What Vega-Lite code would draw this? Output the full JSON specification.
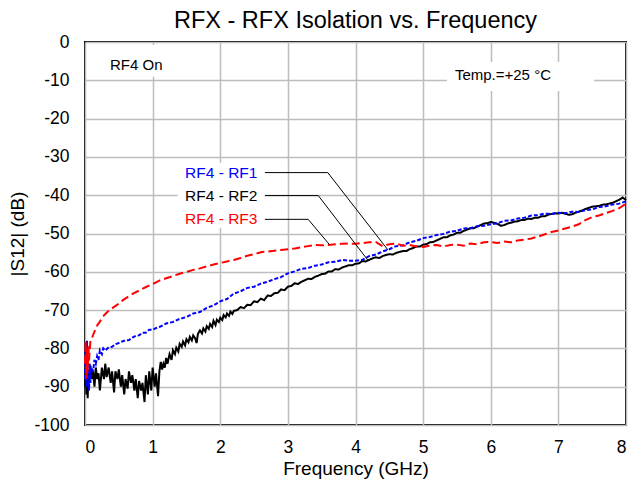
{
  "$schema": "https://vega.github.io/schema/vega-lite/v6.json",
  "width": 541,
  "height": 383,
  "autosize": "none",
  "padding": {"left": 85, "top": 42, "right": 4, "bottom": 55},
  "background": "white",
  "title": {"text": "RFX - RFX Isolation vs. Frequency", "fontSize": 23.5, "font": "Liberation Sans", "fontWeight": "normal", "color": "black", "anchor": "middle", "offset": 1},
  "config": {
    "font": "Liberation Sans",
    "view": {"stroke": "black", "strokeWidth": 2},
    "axis": {"grid": true, "gridColor": "#bdbdbd", "gridWidth": 1.5, "domain": false, "ticks": false, "labelOverlap": false, "labelFont": "Liberation Sans", "labelFontSize": 17.5, "labelColor": "black", "titleFont": "Liberation Sans", "titleFontSize": 19, "titleFontWeight": "normal", "titleColor": "black"}
  },
  "datasets": {
    "curves": [
      {"s": "RF4 - RF2", "f": 0.00, "db": -90}, {"s": "RF4 - RF2", "f": 0.01, "db": -85}, {"s": "RF4 - RF2", "f": 0.02, "db": -92}, {"s": "RF4 - RF2", "f": 0.03, "db": -87}, {"s": "RF4 - RF2", "f": 0.04, "db": -93}, {"s": "RF4 - RF2", "f": 0.05, "db": -86}, {"s": "RF4 - RF2", "f": 0.06, "db": -89}, {"s": "RF4 - RF2", "f": 0.08, "db": -84.5}, {"s": "RF4 - RF2", "f": 0.10, "db": -88}, {"s": "RF4 - RF2", "f": 0.12, "db": -86}, {"s": "RF4 - RF2", "f": 0.14, "db": -90}, {"s": "RF4 - RF2", "f": 0.16, "db": -85}, {"s": "RF4 - RF2", "f": 0.18, "db": -88}, {"s": "RF4 - RF2", "f": 0.20, "db": -86.5}, {"s": "RF4 - RF2", "f": 0.22, "db": -91}, {"s": "RF4 - RF2", "f": 0.25, "db": -85}, {"s": "RF4 - RF2", "f": 0.28, "db": -88}, {"s": "RF4 - RF2", "f": 0.30, "db": -84}, {"s": "RF4 - RF2", "f": 0.32, "db": -87.5}, {"s": "RF4 - RF2", "f": 0.35, "db": -85}, {"s": "RF4 - RF2", "f": 0.38, "db": -89}, {"s": "RF4 - RF2", "f": 0.40, "db": -86}, {"s": "RF4 - RF2", "f": 0.43, "db": -91.5}, {"s": "RF4 - RF2", "f": 0.45, "db": -86}, {"s": "RF4 - RF2", "f": 0.48, "db": -88}, {"s": "RF4 - RF2", "f": 0.50, "db": -85.5}, {"s": "RF4 - RF2", "f": 0.53, "db": -90}, {"s": "RF4 - RF2", "f": 0.55, "db": -87}, {"s": "RF4 - RF2", "f": 0.58, "db": -92}, {"s": "RF4 - RF2", "f": 0.60, "db": -88}, {"s": "RF4 - RF2", "f": 0.63, "db": -90.5}, {"s": "RF4 - RF2", "f": 0.65, "db": -86}, {"s": "RF4 - RF2", "f": 0.68, "db": -89}, {"s": "RF4 - RF2", "f": 0.70, "db": -87}, {"s": "RF4 - RF2", "f": 0.73, "db": -91}, {"s": "RF4 - RF2", "f": 0.75, "db": -88}, {"s": "RF4 - RF2", "f": 0.78, "db": -93}, {"s": "RF4 - RF2", "f": 0.80, "db": -88.5}, {"s": "RF4 - RF2", "f": 0.83, "db": -91}, {"s": "RF4 - RF2", "f": 0.85, "db": -89}, {"s": "RF4 - RF2", "f": 0.88, "db": -94}, {"s": "RF4 - RF2", "f": 0.90, "db": -87}, {"s": "RF4 - RF2", "f": 0.93, "db": -92}, {"s": "RF4 - RF2", "f": 0.95, "db": -86}, {"s": "RF4 - RF2", "f": 0.98, "db": -91}, {"s": "RF4 - RF2", "f": 1.00, "db": -85}, {"s": "RF4 - RF2", "f": 1.03, "db": -90}, {"s": "RF4 - RF2", "f": 1.05, "db": -86.5}, {"s": "RF4 - RF2", "f": 1.08, "db": -92.5}, {"s": "RF4 - RF2", "f": 1.10, "db": -86},
      {"s": "RF4 - RF2", "f": 1.12, "db": -83.5}, {"s": "RF4 - RF2", "f": 1.14, "db": -85.5}, {"s": "RF4 - RF2", "f": 1.16, "db": -84}, {"s": "RF4 - RF2", "f": 1.18, "db": -85}, {"s": "RF4 - RF2", "f": 1.20, "db": -82.5}, {"s": "RF4 - RF2", "f": 1.22, "db": -84}, {"s": "RF4 - RF2", "f": 1.25, "db": -81.5}, {"s": "RF4 - RF2", "f": 1.28, "db": -83}, {"s": "RF4 - RF2", "f": 1.30, "db": -80.5}, {"s": "RF4 - RF2", "f": 1.33, "db": -81.5}, {"s": "RF4 - RF2", "f": 1.35, "db": -79.8}, {"s": "RF4 - RF2", "f": 1.38, "db": -80.8}, {"s": "RF4 - RF2", "f": 1.40, "db": -78.8}, {"s": "RF4 - RF2", "f": 1.43, "db": -79.6}, {"s": "RF4 - RF2", "f": 1.45, "db": -78.2}, {"s": "RF4 - RF2", "f": 1.48, "db": -79.2}, {"s": "RF4 - RF2", "f": 1.50, "db": -77.6}, {"s": "RF4 - RF2", "f": 1.53, "db": -78.4}, {"s": "RF4 - RF2", "f": 1.55, "db": -77}, {"s": "RF4 - RF2", "f": 1.58, "db": -77.9}, {"s": "RF4 - RF2", "f": 1.60, "db": -76.6}, {"s": "RF4 - RF2", "f": 1.63, "db": -77.4}, {"s": "RF4 - RF2", "f": 1.65, "db": -78.6}, {"s": "RF4 - RF2", "f": 1.67, "db": -76.2}, {"s": "RF4 - RF2", "f": 1.70, "db": -75.3}, {"s": "RF4 - RF2", "f": 1.73, "db": -76.1}, {"s": "RF4 - RF2", "f": 1.75, "db": -74.8}, {"s": "RF4 - RF2", "f": 1.78, "db": -75.6}, {"s": "RF4 - RF2", "f": 1.80, "db": -74.2}, {"s": "RF4 - RF2", "f": 1.83, "db": -74.9}, {"s": "RF4 - RF2", "f": 1.85, "db": -73.6}, {"s": "RF4 - RF2", "f": 1.88, "db": -74.4}, {"s": "RF4 - RF2", "f": 1.90, "db": -72.8}, {"s": "RF4 - RF2", "f": 1.93, "db": -73.9}, {"s": "RF4 - RF2", "f": 1.95, "db": -72.5}, {"s": "RF4 - RF2", "f": 1.98, "db": -73.1}, {"s": "RF4 - RF2", "f": 2.00, "db": -72.0}, {"s": "RF4 - RF2", "f": 2.03, "db": -72.6}, {"s": "RF4 - RF2", "f": 2.05, "db": -71.3}, {"s": "RF4 - RF2", "f": 2.08, "db": -71.9}, {"s": "RF4 - RF2", "f": 2.10, "db": -70.9}, {"s": "RF4 - RF2", "f": 2.13, "db": -71.5}, {"s": "RF4 - RF2", "f": 2.15, "db": -70.4}, {"s": "RF4 - RF2", "f": 2.18, "db": -71.0}, {"s": "RF4 - RF2", "f": 2.20, "db": -70.2}, {"s": "RF4 - RF2", "f": 2.25, "db": -70.0}, {"s": "RF4 - RF2", "f": 2.30, "db": -69.2}, {"s": "RF4 - RF2", "f": 2.35, "db": -69.5}, {"s": "RF4 - RF2", "f": 2.40, "db": -68.6}, {"s": "RF4 - RF2", "f": 2.45, "db": -68.7}, {"s": "RF4 - RF2", "f": 2.50, "db": -67.7}, {"s": "RF4 - RF2", "f": 2.55, "db": -67.9}, {"s": "RF4 - RF2", "f": 2.60, "db": -67.0}, {"s": "RF4 - RF2", "f": 2.65, "db": -67.4}, {"s": "RF4 - RF2", "f": 2.70, "db": -66.2}, {"s": "RF4 - RF2", "f": 2.75, "db": -66.3}, {"s": "RF4 - RF2", "f": 2.80, "db": -65.6}, {"s": "RF4 - RF2", "f": 2.85, "db": -65.5}, {"s": "RF4 - RF2", "f": 2.90, "db": -64.6}, {"s": "RF4 - RF2", "f": 2.95, "db": -64.8}, {"s": "RF4 - RF2", "f": 3.00, "db": -63.9}, {"s": "RF4 - RF2", "f": 3.05, "db": -63.7}, {"s": "RF4 - RF2", "f": 3.10, "db": -63.0}, {"s": "RF4 - RF2", "f": 3.15, "db": -63.2}, {"s": "RF4 - RF2", "f": 3.20, "db": -62.6}, {"s": "RF4 - RF2", "f": 3.25, "db": -62.2}, {"s": "RF4 - RF2", "f": 3.30, "db": -61.8}, {"s": "RF4 - RF2", "f": 3.35, "db": -61.9}, {"s": "RF4 - RF2", "f": 3.40, "db": -61.3}, {"s": "RF4 - RF2", "f": 3.45, "db": -61.0}, {"s": "RF4 - RF2", "f": 3.50, "db": -60.6}, {"s": "RF4 - RF2", "f": 3.55, "db": -60.5}, {"s": "RF4 - RF2", "f": 3.60, "db": -59.9}, {"s": "RF4 - RF2", "f": 3.65, "db": -59.9}, {"s": "RF4 - RF2", "f": 3.70, "db": -59.3}, {"s": "RF4 - RF2", "f": 3.75, "db": -59.4}, {"s": "RF4 - RF2", "f": 3.80, "db": -58.9}, {"s": "RF4 - RF2", "f": 3.85, "db": -58.6}, {"s": "RF4 - RF2", "f": 3.90, "db": -58.3}, {"s": "RF4 - RF2", "f": 3.95, "db": -58.3}, {"s": "RF4 - RF2", "f": 4.00, "db": -57.9}, {"s": "RF4 - RF2", "f": 4.05, "db": -57.8}, {"s": "RF4 - RF2", "f": 4.10, "db": -57.2}, {"s": "RF4 - RF2", "f": 4.15, "db": -57.3}, {"s": "RF4 - RF2", "f": 4.20, "db": -56.9}, {"s": "RF4 - RF2", "f": 4.25, "db": -56.5}, {"s": "RF4 - RF2", "f": 4.30, "db": -56.2}, {"s": "RF4 - RF2", "f": 4.35, "db": -56.4}, {"s": "RF4 - RF2", "f": 4.40, "db": -55.9}, {"s": "RF4 - RF2", "f": 4.45, "db": -55.6}, {"s": "RF4 - RF2", "f": 4.50, "db": -55.4}, {"s": "RF4 - RF2", "f": 4.55, "db": -55.5}, {"s": "RF4 - RF2", "f": 4.60, "db": -55.1}, {"s": "RF4 - RF2", "f": 4.65, "db": -54.8}, {"s": "RF4 - RF2", "f": 4.70, "db": -54.6}, {"s": "RF4 - RF2", "f": 4.75, "db": -54.6}, {"s": "RF4 - RF2", "f": 4.80, "db": -54.1}, {"s": "RF4 - RF2", "f": 4.85, "db": -53.8}, {"s": "RF4 - RF2", "f": 4.90, "db": -53.4}, {"s": "RF4 - RF2", "f": 4.95, "db": -53.4}, {"s": "RF4 - RF2", "f": 5.00, "db": -52.9}, {"s": "RF4 - RF2", "f": 5.05, "db": -52.8}, {"s": "RF4 - RF2", "f": 5.10, "db": -52.3}, {"s": "RF4 - RF2", "f": 5.15, "db": -52.2}, {"s": "RF4 - RF2", "f": 5.20, "db": -51.8}, {"s": "RF4 - RF2", "f": 5.25, "db": -51.4}, {"s": "RF4 - RF2", "f": 5.30, "db": -51.0}, {"s": "RF4 - RF2", "f": 5.35, "db": -51.0}, {"s": "RF4 - RF2", "f": 5.40, "db": -50.5}, {"s": "RF4 - RF2", "f": 5.45, "db": -50.3}, {"s": "RF4 - RF2", "f": 5.50, "db": -49.8}, {"s": "RF4 - RF2", "f": 5.55, "db": -49.8}, {"s": "RF4 - RF2", "f": 5.60, "db": -49.3}, {"s": "RF4 - RF2", "f": 5.65, "db": -49.0}, {"s": "RF4 - RF2", "f": 5.70, "db": -48.6}, {"s": "RF4 - RF2", "f": 5.75, "db": -48.6}, {"s": "RF4 - RF2", "f": 5.80, "db": -48.2}, {"s": "RF4 - RF2", "f": 5.85, "db": -47.8}, {"s": "RF4 - RF2", "f": 5.90, "db": -47.4}, {"s": "RF4 - RF2", "f": 5.95, "db": -47.3}, {"s": "RF4 - RF2", "f": 6.00, "db": -47.0}, {"s": "RF4 - RF2", "f": 6.05, "db": -47.2}, {"s": "RF4 - RF2", "f": 6.10, "db": -47.5}, {"s": "RF4 - RF2", "f": 6.15, "db": -48.0}, {"s": "RF4 - RF2", "f": 6.20, "db": -47.8}, {"s": "RF4 - RF2", "f": 6.25, "db": -47.4}, {"s": "RF4 - RF2", "f": 6.30, "db": -47.2}, {"s": "RF4 - RF2", "f": 6.35, "db": -46.9}, {"s": "RF4 - RF2", "f": 6.40, "db": -46.8}, {"s": "RF4 - RF2", "f": 6.45, "db": -46.5}, {"s": "RF4 - RF2", "f": 6.50, "db": -46.5}, {"s": "RF4 - RF2", "f": 6.55, "db": -46.1}, {"s": "RF4 - RF2", "f": 6.60, "db": -46.2}, {"s": "RF4 - RF2", "f": 6.65, "db": -45.9}, {"s": "RF4 - RF2", "f": 6.70, "db": -45.9}, {"s": "RF4 - RF2", "f": 6.75, "db": -45.5}, {"s": "RF4 - RF2", "f": 6.80, "db": -45.5}, {"s": "RF4 - RF2", "f": 6.85, "db": -45.1}, {"s": "RF4 - RF2", "f": 6.90, "db": -44.9}, {"s": "RF4 - RF2", "f": 6.95, "db": -44.7}, {"s": "RF4 - RF2", "f": 7.00, "db": -44.8}, {"s": "RF4 - RF2", "f": 7.05, "db": -44.6}, {"s": "RF4 - RF2", "f": 7.10, "db": -44.8}, {"s": "RF4 - RF2", "f": 7.15, "db": -45.1}, {"s": "RF4 - RF2", "f": 7.20, "db": -45.0}, {"s": "RF4 - RF2", "f": 7.25, "db": -44.6}, {"s": "RF4 - RF2", "f": 7.30, "db": -44.3}, {"s": "RF4 - RF2", "f": 7.35, "db": -44.0}, {"s": "RF4 - RF2", "f": 7.40, "db": -43.6}, {"s": "RF4 - RF2", "f": 7.45, "db": -43.3}, {"s": "RF4 - RF2", "f": 7.50, "db": -43.0}, {"s": "RF4 - RF2", "f": 7.55, "db": -42.9}, {"s": "RF4 - RF2", "f": 7.60, "db": -42.8}, {"s": "RF4 - RF2", "f": 7.65, "db": -42.5}, {"s": "RF4 - RF2", "f": 7.70, "db": -42.4}, {"s": "RF4 - RF2", "f": 7.75, "db": -42.2}, {"s": "RF4 - RF2", "f": 7.80, "db": -42.0}, {"s": "RF4 - RF2", "f": 7.85, "db": -41.6}, {"s": "RF4 - RF2", "f": 7.90, "db": -41.2}, {"s": "RF4 - RF2", "f": 7.95, "db": -40.6}, {"s": "RF4 - RF2", "f": 8.00, "db": -41.3},

      {"s": "RF4 - RF1", "f": 0.00, "db": -88}, {"s": "RF4 - RF1", "f": 0.01, "db": -80}, {"s": "RF4 - RF1", "f": 0.02, "db": -90}, {"s": "RF4 - RF1", "f": 0.03, "db": -78}, {"s": "RF4 - RF1", "f": 0.04, "db": -86}, {"s": "RF4 - RF1", "f": 0.05, "db": -82}, {"s": "RF4 - RF1", "f": 0.06, "db": -91}, {"s": "RF4 - RF1", "f": 0.07, "db": -84}, {"s": "RF4 - RF1", "f": 0.08, "db": -89}, {"s": "RF4 - RF1", "f": 0.10, "db": -85}, {"s": "RF4 - RF1", "f": 0.12, "db": -86}, {"s": "RF4 - RF1", "f": 0.14, "db": -83}, {"s": "RF4 - RF1", "f": 0.16, "db": -84}, {"s": "RF4 - RF1", "f": 0.18, "db": -82}, {"s": "RF4 - RF1", "f": 0.20, "db": -83}, {"s": "RF4 - RF1", "f": 0.22, "db": -80.5}, {"s": "RF4 - RF1", "f": 0.25, "db": -81.5}, {"s": "RF4 - RF1", "f": 0.27, "db": -80}, {"s": "RF4 - RF1", "f": 0.30, "db": -80.6}, {"s": "RF4 - RF1", "f": 0.35, "db": -79.7}, {"s": "RF4 - RF1", "f": 0.40, "db": -79.6}, {"s": "RF4 - RF1", "f": 0.45, "db": -78.9}, {"s": "RF4 - RF1", "f": 0.50, "db": -78.6}, {"s": "RF4 - RF1", "f": 0.55, "db": -78.2}, {"s": "RF4 - RF1", "f": 0.60, "db": -77.9}, {"s": "RF4 - RF1", "f": 0.65, "db": -77.8}, {"s": "RF4 - RF1", "f": 0.70, "db": -77.2}, {"s": "RF4 - RF1", "f": 0.75, "db": -76.7}, {"s": "RF4 - RF1", "f": 0.80, "db": -76.6}, {"s": "RF4 - RF1", "f": 0.85, "db": -75.9}, {"s": "RF4 - RF1", "f": 0.90, "db": -75.9}, {"s": "RF4 - RF1", "f": 0.95, "db": -75.1}, {"s": "RF4 - RF1", "f": 1.00, "db": -75.1}, {"s": "RF4 - RF1", "f": 1.05, "db": -74.7}, {"s": "RF4 - RF1", "f": 1.10, "db": -74.4}, {"s": "RF4 - RF1", "f": 1.20, "db": -73.5}, {"s": "RF4 - RF1", "f": 1.30, "db": -73.1}, {"s": "RF4 - RF1", "f": 1.40, "db": -72.3}, {"s": "RF4 - RF1", "f": 1.50, "db": -71.8}, {"s": "RF4 - RF1", "f": 1.60, "db": -70.9}, {"s": "RF4 - RF1", "f": 1.70, "db": -70.5}, {"s": "RF4 - RF1", "f": 1.80, "db": -69.4}, {"s": "RF4 - RF1", "f": 1.90, "db": -68.8}, {"s": "RF4 - RF1", "f": 2.00, "db": -67.7}, {"s": "RF4 - RF1", "f": 2.10, "db": -67.1}, {"s": "RF4 - RF1", "f": 2.20, "db": -65.7}, {"s": "RF4 - RF1", "f": 2.30, "db": -65.1}, {"s": "RF4 - RF1", "f": 2.40, "db": -64.2}, {"s": "RF4 - RF1", "f": 2.50, "db": -63.9}, {"s": "RF4 - RF1", "f": 2.60, "db": -63.1}, {"s": "RF4 - RF1", "f": 2.70, "db": -62.6}, {"s": "RF4 - RF1", "f": 2.80, "db": -61.9}, {"s": "RF4 - RF1", "f": 2.90, "db": -61.4}, {"s": "RF4 - RF1", "f": 3.00, "db": -60.4}, {"s": "RF4 - RF1", "f": 3.10, "db": -59.9}, {"s": "RF4 - RF1", "f": 3.20, "db": -59.2}, {"s": "RF4 - RF1", "f": 3.30, "db": -59}, {"s": "RF4 - RF1", "f": 3.40, "db": -58.4}, {"s": "RF4 - RF1", "f": 3.50, "db": -58.1}, {"s": "RF4 - RF1", "f": 3.60, "db": -57.5}, {"s": "RF4 - RF1", "f": 3.70, "db": -57.4}, {"s": "RF4 - RF1", "f": 3.80, "db": -56.9}, {"s": "RF4 - RF1", "f": 3.90, "db": -57.1}, {"s": "RF4 - RF1", "f": 4.00, "db": -57.1}, {"s": "RF4 - RF1", "f": 4.10, "db": -56.9}, {"s": "RF4 - RF1", "f": 4.20, "db": -55.9}, {"s": "RF4 - RF1", "f": 4.30, "db": -55.5}, {"s": "RF4 - RF1", "f": 4.40, "db": -54.7}, {"s": "RF4 - RF1", "f": 4.50, "db": -54.1}, {"s": "RF4 - RF1", "f": 4.60, "db": -53.3}, {"s": "RF4 - RF1", "f": 4.70, "db": -53.1}, {"s": "RF4 - RF1", "f": 4.80, "db": -52.3}, {"s": "RF4 - RF1", "f": 4.90, "db": -51.9}, {"s": "RF4 - RF1", "f": 5.00, "db": -51.2}, {"s": "RF4 - RF1", "f": 5.10, "db": -50.9}, {"s": "RF4 - RF1", "f": 5.20, "db": -50.4}, {"s": "RF4 - RF1", "f": 5.30, "db": -50.1}, {"s": "RF4 - RF1", "f": 5.40, "db": -49.5}, {"s": "RF4 - RF1", "f": 5.50, "db": -49.3}, {"s": "RF4 - RF1", "f": 5.60, "db": -48.7}, {"s": "RF4 - RF1", "f": 5.70, "db": -48.6}, {"s": "RF4 - RF1", "f": 5.80, "db": -48.1}, {"s": "RF4 - RF1", "f": 5.90, "db": -48}, {"s": "RF4 - RF1", "f": 6.00, "db": -47.6}, {"s": "RF4 - RF1", "f": 6.10, "db": -47.3}, {"s": "RF4 - RF1", "f": 6.20, "db": -46.7}, {"s": "RF4 - RF1", "f": 6.30, "db": -46.6}, {"s": "RF4 - RF1", "f": 6.40, "db": -46.1}, {"s": "RF4 - RF1", "f": 6.50, "db": -45.9}, {"s": "RF4 - RF1", "f": 6.60, "db": -45.3}, {"s": "RF4 - RF1", "f": 6.70, "db": -45.2}, {"s": "RF4 - RF1", "f": 6.80, "db": -44.8}, {"s": "RF4 - RF1", "f": 6.90, "db": -44.9}, {"s": "RF4 - RF1", "f": 7.00, "db": -44.6}, {"s": "RF4 - RF1", "f": 7.10, "db": -44.7}, {"s": "RF4 - RF1", "f": 7.20, "db": -44.3}, {"s": "RF4 - RF1", "f": 7.30, "db": -44.4}, {"s": "RF4 - RF1", "f": 7.40, "db": -43.9}, {"s": "RF4 - RF1", "f": 7.50, "db": -43.7}, {"s": "RF4 - RF1", "f": 7.60, "db": -43.1}, {"s": "RF4 - RF1", "f": 7.70, "db": -42.9}, {"s": "RF4 - RF1", "f": 7.80, "db": -42.4}, {"s": "RF4 - RF1", "f": 7.90, "db": -42.2}, {"s": "RF4 - RF1", "f": 8.00, "db": -41.6},

      {"s": "RF4 - RF3", "f": 0.00, "db": -84}, {"s": "RF4 - RF3", "f": 0.01, "db": -78}, {"s": "RF4 - RF3", "f": 0.02, "db": -88}, {"s": "RF4 - RF3", "f": 0.03, "db": -80}, {"s": "RF4 - RF3", "f": 0.04, "db": -86}, {"s": "RF4 - RF3", "f": 0.05, "db": -79}, {"s": "RF4 - RF3", "f": 0.06, "db": -83}, {"s": "RF4 - RF3", "f": 0.08, "db": -78}, {"s": "RF4 - RF3", "f": 0.10, "db": -77.5}, {"s": "RF4 - RF3", "f": 0.12, "db": -76.5}, {"s": "RF4 - RF3", "f": 0.15, "db": -75.2}, {"s": "RF4 - RF3", "f": 0.18, "db": -74}, {"s": "RF4 - RF3", "f": 0.22, "db": -73}, {"s": "RF4 - RF3", "f": 0.26, "db": -71.8}, {"s": "RF4 - RF3", "f": 0.30, "db": -71}, {"s": "RF4 - RF3", "f": 0.35, "db": -70.2}, {"s": "RF4 - RF3", "f": 0.42, "db": -69.3}, {"s": "RF4 - RF3", "f": 0.50, "db": -68.3}, {"s": "RF4 - RF3", "f": 0.56, "db": -67.4}, {"s": "RF4 - RF3", "f": 0.63, "db": -66.6}, {"s": "RF4 - RF3", "f": 0.71, "db": -65.7}, {"s": "RF4 - RF3", "f": 0.80, "db": -64.9}, {"s": "RF4 - RF3", "f": 0.91, "db": -63.9}, {"s": "RF4 - RF3", "f": 1.00, "db": -63.2}, {"s": "RF4 - RF3", "f": 1.10, "db": -62.3}, {"s": "RF4 - RF3", "f": 1.20, "db": -61.7}, {"s": "RF4 - RF3", "f": 1.30, "db": -61.1}, {"s": "RF4 - RF3", "f": 1.40, "db": -60.5}, {"s": "RF4 - RF3", "f": 1.50, "db": -60}, {"s": "RF4 - RF3", "f": 1.60, "db": -59.5}, {"s": "RF4 - RF3", "f": 1.70, "db": -59.1}, {"s": "RF4 - RF3", "f": 1.80, "db": -58.6}, {"s": "RF4 - RF3", "f": 1.90, "db": -58.1}, {"s": "RF4 - RF3", "f": 2.00, "db": -57.7}, {"s": "RF4 - RF3", "f": 2.10, "db": -57.3}, {"s": "RF4 - RF3", "f": 2.20, "db": -56.9}, {"s": "RF4 - RF3", "f": 2.30, "db": -56.4}, {"s": "RF4 - RF3", "f": 2.40, "db": -55.8}, {"s": "RF4 - RF3", "f": 2.50, "db": -55.4}, {"s": "RF4 - RF3", "f": 2.60, "db": -54.9}, {"s": "RF4 - RF3", "f": 2.70, "db": -54.7}, {"s": "RF4 - RF3", "f": 2.80, "db": -54.5}, {"s": "RF4 - RF3", "f": 2.90, "db": -54.3}, {"s": "RF4 - RF3", "f": 3.00, "db": -54.1}, {"s": "RF4 - RF3", "f": 3.10, "db": -53.9}, {"s": "RF4 - RF3", "f": 3.20, "db": -53.6}, {"s": "RF4 - RF3", "f": 3.30, "db": -53.3}, {"s": "RF4 - RF3", "f": 3.40, "db": -53}, {"s": "RF4 - RF3", "f": 3.50, "db": -53.1}, {"s": "RF4 - RF3", "f": 3.60, "db": -53}, {"s": "RF4 - RF3", "f": 3.70, "db": -52.8}, {"s": "RF4 - RF3", "f": 3.80, "db": -52.7}, {"s": "RF4 - RF3", "f": 3.90, "db": -52.6}, {"s": "RF4 - RF3", "f": 4.00, "db": -52.7}, {"s": "RF4 - RF3", "f": 4.10, "db": -52.5}, {"s": "RF4 - RF3", "f": 4.20, "db": -52.3}, {"s": "RF4 - RF3", "f": 4.30, "db": -52.2}, {"s": "RF4 - RF3", "f": 4.40, "db": -53.3}, {"s": "RF4 - RF3", "f": 4.50, "db": -52.8}, {"s": "RF4 - RF3", "f": 4.60, "db": -52.6}, {"s": "RF4 - RF3", "f": 4.70, "db": -53.2}, {"s": "RF4 - RF3", "f": 4.80, "db": -53}, {"s": "RF4 - RF3", "f": 4.90, "db": -53.4}, {"s": "RF4 - RF3", "f": 5.00, "db": -53.5}, {"s": "RF4 - RF3", "f": 5.10, "db": -53.2}, {"s": "RF4 - RF3", "f": 5.20, "db": -53}, {"s": "RF4 - RF3", "f": 5.30, "db": -53.4}, {"s": "RF4 - RF3", "f": 5.40, "db": -53}, {"s": "RF4 - RF3", "f": 5.50, "db": -52.9}, {"s": "RF4 - RF3", "f": 5.60, "db": -53.2}, {"s": "RF4 - RF3", "f": 5.70, "db": -52.6}, {"s": "RF4 - RF3", "f": 5.80, "db": -52.8}, {"s": "RF4 - RF3", "f": 5.90, "db": -52.3}, {"s": "RF4 - RF3", "f": 6.00, "db": -52.2}, {"s": "RF4 - RF3", "f": 6.10, "db": -52.5}, {"s": "RF4 - RF3", "f": 6.20, "db": -52.1}, {"s": "RF4 - RF3", "f": 6.30, "db": -52.3}, {"s": "RF4 - RF3", "f": 6.40, "db": -51.8}, {"s": "RF4 - RF3", "f": 6.50, "db": -51.6}, {"s": "RF4 - RF3", "f": 6.60, "db": -51.3}, {"s": "RF4 - RF3", "f": 6.70, "db": -50.8}, {"s": "RF4 - RF3", "f": 6.80, "db": -50.2}, {"s": "RF4 - RF3", "f": 6.90, "db": -49.6}, {"s": "RF4 - RF3", "f": 7.00, "db": -49.2}, {"s": "RF4 - RF3", "f": 7.10, "db": -48.7}, {"s": "RF4 - RF3", "f": 7.20, "db": -48.2}, {"s": "RF4 - RF3", "f": 7.30, "db": -47.6}, {"s": "RF4 - RF3", "f": 7.40, "db": -46.5}, {"s": "RF4 - RF3", "f": 7.50, "db": -45.7}, {"s": "RF4 - RF3", "f": 7.60, "db": -45.3}, {"s": "RF4 - RF3", "f": 7.70, "db": -44.7}, {"s": "RF4 - RF3", "f": 7.80, "db": -44.1}, {"s": "RF4 - RF3", "f": 7.90, "db": -43.4}, {"s": "RF4 - RF3", "f": 8.00, "db": -42.2}
    ],
    "boxes": [
      {"x": 0.28, "x2": 1.25, "y": -0.8, "y2": -9.1},
      {"x": 1.37, "x2": 2.66, "y": -31.5, "y2": -48.5},
      {"x": 5.35, "x2": 7.53, "y": -5.2, "y2": -12.8}
    ],
    "leaders": [
      {"s": "RF4 - RF1", "o": 1, "f": 2.66, "db": -34.1}, {"s": "RF4 - RF1", "o": 2, "f": 3.59, "db": -34.1}, {"s": "RF4 - RF1", "o": 3, "f": 4.48, "db": -54.3},
      {"s": "RF4 - RF2", "o": 1, "f": 2.66, "db": -40.1}, {"s": "RF4 - RF2", "o": 2, "f": 3.45, "db": -40.1}, {"s": "RF4 - RF2", "o": 3, "f": 4.18, "db": -56.9},
      {"s": "RF4 - RF3", "o": 1, "f": 2.66, "db": -46.3}, {"s": "RF4 - RF3", "o": 2, "f": 3.30, "db": -46.3}, {"s": "RF4 - RF3", "o": 3, "f": 3.62, "db": -53.0}
    ],
    "labels": [
      {"s": "RF4 - RF1", "f": 1.48, "db": -34.1},
      {"s": "RF4 - RF2", "f": 1.48, "db": -40.1},
      {"s": "RF4 - RF3", "f": 1.48, "db": -46.3}
    ],
    "notes": [
      {"t": "RF4 On", "f": 0.37, "db": -6.0},
      {"t": "Temp.=+25 °C", "f": 5.47, "db": -8.6}
    ]
  },
  "layer": [
    {
      "data": {"name": "boxes"},
      "mark": {"type": "rect", "fill": "white", "stroke": null},
      "encoding": {
        "x": {"field": "x", "type": "quantitative", "scale": {"domain": [0, 8], "nice": false}, "axis": {"values": [0, 1, 2, 3, 4, 5, 6, 7, 8], "tickCount": 9, "title": "Frequency (GHz)", "labelPadding": 13, "titlePadding": 4, "labelExpr": "'' + datum.value"}},
        "x2": {"field": "x2"},
        "y": {"field": "y", "type": "quantitative", "scale": {"domain": [-100, 0], "nice": false}, "axis": {"values": [-100, -90, -80, -70, -60, -50, -40, -30, -20, -10, 0], "tickCount": 11, "title": "|S12| (dB)", "labelPadding": 16, "titlePadding": 6, "labelExpr": "'' + datum.value"}},
        "y2": {"field": "y2"}
      }
    },
    {
      "data": {"name": "curves"},
      "mark": {"type": "line", "strokeWidth": 2, "interpolate": "linear"},
      "encoding": {
        "x": {"field": "f", "type": "quantitative"},
        "y": {"field": "db", "type": "quantitative"},
        "color": {"field": "s", "type": "nominal", "scale": {"domain": ["RF4 - RF1", "RF4 - RF2", "RF4 - RF3"], "range": ["#0000ff", "#000000", "#ff0000"]}, "legend": null},
        "strokeDash": {"field": "s", "type": "nominal", "scale": {"domain": ["RF4 - RF1", "RF4 - RF2", "RF4 - RF3"], "range": [[4, 2], [1, 0], [8, 4]]}, "legend": null},
        "order": {"field": "f", "type": "quantitative"}
      }
    },
    {
      "data": {"name": "leaders"},
      "mark": {"type": "line", "strokeWidth": 1, "color": "black"},
      "encoding": {
        "x": {"field": "f", "type": "quantitative"},
        "y": {"field": "db", "type": "quantitative"},
        "detail": {"field": "s", "type": "nominal"},
        "order": {"field": "o", "type": "quantitative"}
      }
    },
    {
      "data": {"name": "labels"},
      "mark": {"type": "text", "align": "left", "baseline": "middle", "fontSize": 15.5, "font": "Liberation Sans"},
      "encoding": {
        "x": {"field": "f", "type": "quantitative"},
        "y": {"field": "db", "type": "quantitative"},
        "text": {"field": "s"},
        "color": {"field": "s", "type": "nominal", "legend": null}
      }
    },
    {
      "data": {"name": "notes"},
      "mark": {"type": "text", "align": "left", "baseline": "middle", "fontSize": 15, "font": "Liberation Sans", "color": "black"},
      "encoding": {
        "x": {"field": "f", "type": "quantitative"},
        "y": {"field": "db", "type": "quantitative"},
        "text": {"field": "t"}
      }
    }
  ]
}
